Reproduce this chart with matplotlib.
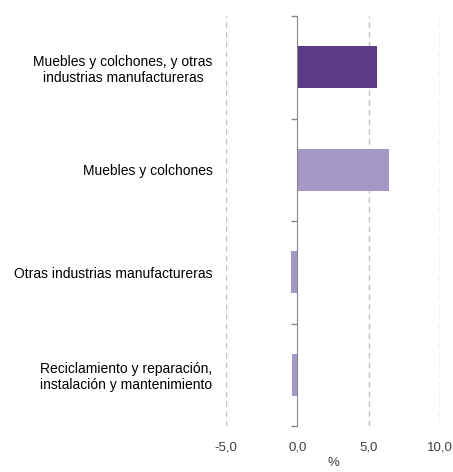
import matplotlib
matplotlib.use("Agg")
import matplotlib.pyplot as plt
from matplotlib.ticker import FixedLocator

categories = ["Muebles y colchones, y otras\nindustrias manufactureras",
              "Muebles y colchones",
              "Otras industrias manufactureras",
              "Reciclamiento y reparación,\ninstalación y mantenimiento"]
values = [5.55, 6.4, -0.45, -0.4]
colors = ["#5B3A86", "#A697C9", "#A697C9", "#A697C9"]
xticks = [-5, 0, 5, 10]
xticklabels = ["-5,0", "0,0", "5,0", "10,0"]

plt.rcParams['font.family'] = ['Liberation Sans', 'DejaVu Sans']
fig = plt.figure(figsize=(4.53, 4.72), dpi=100)
ax = fig.add_axes([226/453, 1-426/472, (440-226)/453, (426-16)/472])

y = list(range(len(categories)))
ax.barh(y, values, height=0.41, color=colors, zorder=3)
ax.set_xlim(-5, 10)
ax.set_ylim(len(categories)-0.5, -0.5)
ax.set_xticks(xticks)
ax.set_xticklabels(xticklabels, fontsize=9.5, color="#404040")
ax.tick_params(axis='x', length=0, pad=11)
ax.set_xlabel("%", fontsize=9.5, color="#404040", labelpad=3)

ax.set_yticks(y)
ax.set_yticklabels(categories, fontsize=9.5, color="#404040")
ax.tick_params(axis='y', which='major', length=0, pad=61)
ax.yaxis.set_minor_locator(FixedLocator([-0.5, 0.5, 1.5, 2.5, 3.5]))
ax.tick_params(axis='y', which='minor', length=4, color="#888888", width=1)

for s in ['top', 'right', 'bottom']:
    ax.spines[s].set_visible(False)
ax.spines['left'].set_position(('data', 0))
ax.spines['left'].set_color("#888888")
ax.spines['left'].set_zorder(4)

for xv in [-5, 5, 10]:
    ax.axvline(xv, color="#C0C0C0", linestyle=(0, (4, 3)), linewidth=1, zorder=1)

fig.canvas.draw()
for t in ax.get_yticklabels():
    t.set_multialignment('center')

fig.savefig("out.png", dpi=100)
